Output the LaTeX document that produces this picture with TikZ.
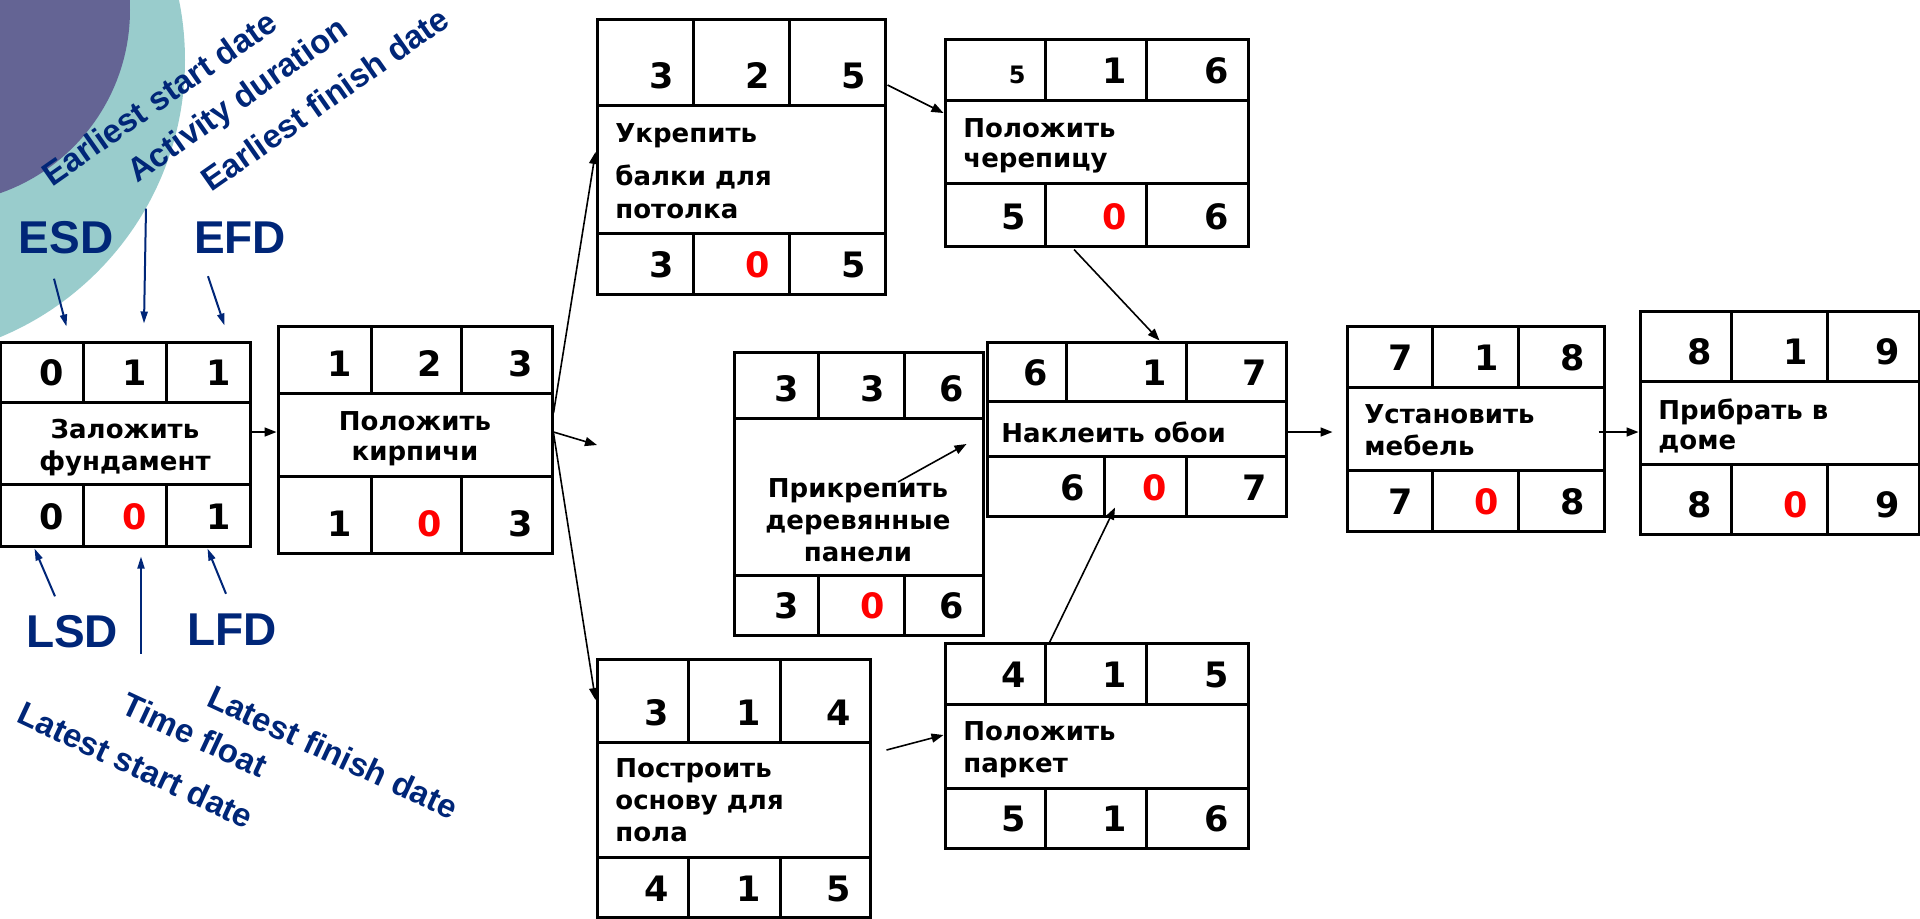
\documentclass[tikz,border=0pt]{standalone}
\usepackage{fontspec}
\setmainfont{DejaVu Sans}
\newfontfamily\labelfont{Liberation Sans}
\usepackage{tikz}
\usetikzlibrary{calc}
\usetikzlibrary{arrows.meta}
\usetikzlibrary{fit}
\definecolor{navy}{RGB}{0,38,120}
\definecolor{plum}{RGB}{100,100,148}
\definecolor{seafoam}{RGB}{153,204,204}
\tikzset{
	act/.style={
		draw,
		line width=1.5pt,
		inner sep=0pt,
	},
	grid/.style={line width=1.5pt},
	num/.style={
		anchor=base east,
		inner sep=0pt,
		font=\fontsize{17.5}{20}\selectfont\bfseries,
	},
	task/.style={
		anchor=north west,
		inner sep=0pt,
		align=left,
		font=\fontsize{13}{16}\selectfont\bfseries,
	},
	flow/.style={
		line width=0.8pt,
		-{Triangle[length=6pt,width=4.5pt]}
	},
	note/.style={
		navy,
		line width=1pt,
		-{Triangle[length=6pt,width=3.5pt]}
	},
	term/.style={
		navy,
		inner sep=0pt,
		font=\labelfont\fontsize{23}{26}\selectfont\bfseries,
	},
	gloss/.style={
		navy,
		inner sep=0pt,
		font=\labelfont\fontsize{16.5}{19}\selectfont\bfseries,
	},
}
\newcommand{\slack}[1]{\textcolor{red}{#1}}
\newcommand{\numrow}[8]{%
	\node[num] (#1-1) at (#3,#2) {#6};
	\node[num] (#1-2) at (#4,#2) {#7};
	\node[num] (#1-3) at (#5,#2) {#8};
}

\begin{document}
\begin{tikzpicture}[x=0.5pt,y=-0.5pt]
	\useasboundingbox (0,0) rectangle (1920,918);

	\begin{scope}
		\clip (0,0) rectangle (1920,918);
		\fill[seafoam] (-115,60) circle[radius=300];
		\fill[plum] (-64,10) circle[radius=194];
	\end{scope}

	% Заложить фундамент
	\node[act, fit={(0,342) (250,546)}] (fund) {};
	\draw[grid] (0,402) -- (250,402) (0,484) -- (250,484)
		(83,342) -- (83,402) (166,342) -- (166,402)
		(83,484) -- (83,546) (166,484) -- (166,546);
	\numrow{fund-e}{385}{64}{147}{231}{0}{1}{1}
	\numrow{fund-l}{529}{64}{147}{231}{0}{\slack{0}}{1}
	\node[task, anchor=north, align=center] (fund-t) at (125,419) {Заложить\\ фундамент};

	% Положить кирпичи
	\node[act, fit={(278,326) (552,553)}] (kirp) {};
	\draw[grid] (278,393) -- (552,393) (278,476) -- (552,476)
		(371,326) -- (371,393) (461,326) -- (461,393)
		(371,476) -- (371,553) (461,476) -- (461,553);
	\numrow{kirp-e}{376}{352}{442}{533}{1}{2}{3}
	\numrow{kirp-l}{536}{352}{442}{533}{1}{\slack{0}}{3}
	\node[task, anchor=north, align=center] (kirp-t) at (415,411) {Положить\\[-1pt] кирпичи};

	% Укрепить балки для потолка
	\node[act, fit={(597,19) (885,294)}] (balk) {};
	\draw[grid] (597,105) -- (885,105) (597,233) -- (885,233)
		(693,19) -- (693,105) (789,19) -- (789,105)
		(693,233) -- (693,294) (789,233) -- (789,294);
	\numrow{balk-e}{88}{674}{770}{866}{3}{2}{5}
	\numrow{balk-l}{277}{674}{770}{866}{3}{\slack{0}}{5}
	\node[task] (balk-t) at (615,123) {Укрепить\\[5.5pt] балки для\\[0.5pt] потолка};

	% Положить черепицу
	\node[act, fit={(945,39) (1248,246)}] (cher) {};
	\draw[grid] (945,100) -- (1248,100) (945,183) -- (1248,183)
		(1045,39) -- (1045,100) (1146,39) -- (1146,100)
		(1045,183) -- (1045,246) (1146,183) -- (1146,246);
	\numrow{cher-e}{83}{1026}{1127}{1229}{\fontsize{12}{14}\selectfont 5}{1}{6}
	\numrow{cher-l}{229}{1026}{1127}{1229}{5}{\slack{0}}{6}
	\node[task] (cher-t) at (963,118) {Положить\\[-1pt] черепицу};

	% Прикрепить деревянные панели
	\node[act, fit={(734,352) (983,635)}] (panel) {};
	\draw[grid] (734,418) -- (983,418) (734,575) -- (983,575)
		(818,352) -- (818,418) (904,352) -- (904,418)
		(818,575) -- (818,635) (904,575) -- (904,635);
	\numrow{panel-e}{401}{799}{885}{964}{3}{3}{6}
	\numrow{panel-l}{618}{799}{885}{964}{3}{\slack{0}}{6}
	\node[task, anchor=north, align=center] (panel-t) at (858,478) {Прикрепить\\ деревянные\\ панели};

	% Наклеить обои
	\node[act, fit={(987,342) (1286,516)}] (oboi) {};
	\draw[grid] (987,401) -- (1286,401) (987,456) -- (1286,456)
		(1066,342) -- (1066,401) (1186,342) -- (1186,401)
		(1104,456) -- (1104,516) (1186,456) -- (1186,516);
	\numrow{oboi-e}{385}{1048}{1167}{1267}{6}{1}{7}
	\numrow{oboi-l}{500}{1085}{1167}{1267}{6}{\slack{0}}{7}
	\node[task] (oboi-t) at (1001,421) {Наклеить обои};

	% Построить основу для пола
	\node[act, fit={(597,659) (870,917)}] (osn) {};
	\draw[grid] (597,742) -- (870,742) (597,857) -- (870,857)
		(688,659) -- (688,742) (780,659) -- (780,742)
		(688,857) -- (688,917) (780,857) -- (780,917);
	\numrow{osn-e}{725}{669}{761}{851}{3}{1}{4}
	\numrow{osn-l}{901}{669}{761}{851}{4}{1}{5}
	\node[task] (osn-t) at (615,758) {Построить\\ основу для\\ пола};

	% Положить паркет
	\node[act, fit={(945,643) (1248,848)}] (parket) {};
	\draw[grid] (945,704) -- (1248,704) (945,788) -- (1248,788)
		(1045,643) -- (1045,704) (1146,643) -- (1146,704)
		(1045,788) -- (1045,848) (1146,788) -- (1146,848);
	\numrow{parket-e}{687}{1026}{1127}{1229}{4}{1}{5}
	\numrow{parket-l}{831}{1026}{1127}{1229}{5}{1}{6}
	\node[task] (parket-t) at (963,721) {Положить\\ паркет};

	% Установить мебель
	\node[act, fit={(1347,326) (1604,531)}] (meb) {};
	\draw[grid] (1347,387) -- (1604,387) (1347,470) -- (1604,470)
		(1432,326) -- (1432,387) (1518,326) -- (1518,387)
		(1432,470) -- (1432,531) (1518,470) -- (1518,531);
	\numrow{meb-e}{370}{1413}{1499}{1585}{7}{1}{8}
	\numrow{meb-l}{514}{1413}{1499}{1585}{7}{\slack{0}}{8}
	\node[task] (meb-t) at (1364,404) {Установить\\ мебель};

	% Прибрать в доме
	\node[act, fit={(1640,311) (1919,534)}] (prib) {};
	\draw[grid] (1640,381) -- (1919,381) (1640,464) -- (1919,464)
		(1731,311) -- (1731,381) (1827,311) -- (1827,381)
		(1731,464) -- (1731,534) (1827,464) -- (1827,534);
	\numrow{prib-e}{364}{1712}{1808}{1900}{8}{1}{9}
	\numrow{prib-l}{517}{1712}{1808}{1900}{8}{\slack{0}}{9}
	\node[task] (prib-t) at (1658,398) {Прибрать в\\[-1pt] доме};

	\coordinate (dangle) at (597,445);

	\draw[flow] ([shift={(0,-12)}]fund.east) -- ([shift={(0,-7.5)}]kirp.west);
	\draw[flow] ([shift={(0,-26.5)}]kirp.east) -- ([shift={(0,-4.5)}]balk.west);
	\draw[flow] ([shift={(0,-7.5)}]kirp.east) -- (dangle);
	\draw[flow] ([shift={(0,-6.5)}]kirp.east) -- ([shift={(0,-88)}]osn.west);
	\draw[flow] ([shift={(1,-71.5)}]balk.east) -- ([shift={(0,-29.5)}]cher.west);
	\draw[flow] ([shift={(-22.5,2)}]cher.south) -- ([shift={(23,0)}]oboi.north);
	\draw[flow] ([shift={(39.5,-11.5)}]panel.center) -- ([shift={(-19,15)}]oboi.west);
	\draw[flow] ([shift={(-47.5,2)}]parket.north) -- ([shift={(-21.5,-10)}]oboi.south);
	\draw[flow] ([shift={(15,-38)}]osn.east) -- ([shift={(0,-10.5)}]parket.west);
	\draw[flow] ([shift={(0,3)}]oboi.east) -- ([shift={(-13,3.5)}]meb.west);
	\draw[flow] ([shift={(-7,3.5)}]meb.east) -- ([shift={(0,9.5)}]prib.west);

	% legend
	\node[term] (esd) at (66,238) {ESD};
	\node[term] (efd) at (240,238) {EFD};
	\node[term] (lsd) at (72,632) {LSD};
	\node[term] (lfd) at (232,630) {LFD};

	\node[gloss, rotate=35] (esd-g) at (159,98) {Earliest start date};
	\node[gloss, rotate=35] (dur-g) at (239,102) {Activity duration};
	\node[gloss, rotate=35] (efd-g) at (325,99) {Earliest finish date};
	\node[gloss, rotate=-25] (lsd-g) at (136,765) {Latest start date};
	\node[gloss, rotate=-25] (tf-g) at (195,735) {Time float};
	\node[gloss, rotate=-25] (lfd-g) at (333,752) {Latest finish date};

	\draw[note] ([shift={(-12,24)}]esd.south) -- ([shift={(68,-14)}]fund.north west);
	\draw[note] ([shift={(21,-132)}]fund.north) -- ([shift={(19,-17)}]fund.north);
	\draw[note] ([shift={(-32,22)}]efd.south) -- ([shift={(-27,-15)}]fund.north east);
	\draw[note] ([shift={(-17,-19)}]lsd.north) -- ([shift={(36,1)}]fund.south west);
	\draw[note] ([shift={(16,106)}]fund.south) -- ([shift={(16,9)}]fund.south);
	\draw[note] ([shift={(-6,-20)}]lfd.north) -- ([shift={(-44,1)}]fund.south east);
\end{tikzpicture}
\end{document}
